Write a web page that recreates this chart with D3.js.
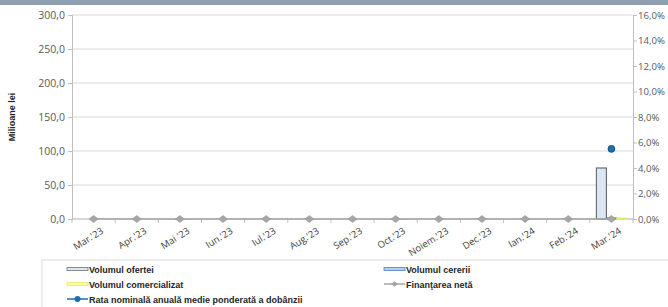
<!DOCTYPE html>
<html>
<head>
<meta charset="utf-8">
<script src="https://cdn.jsdelivr.net/npm/d3@7"></script>
<style>
  body { margin: 0; background: #fff; }
  svg { display: block; font-family: 'Lato', 'Liberation Sans', sans-serif; }
</style>
</head>
<body>
<div id="chart"></div>
<script>
const months = ["Mar.'23","Apr.'23","Mai '23","Iun.'23","Iul.'23","Aug.'23","Sep.'23","Oct.'23","Noiem.'23","Dec.'23","Ian.'24","Feb.'24","Mar.'24"];
const volOferta = [0,0,0,0,0,0,0,0,0,0,0,0,75];
const volCerere = [0,0,0,0,0,0,0,0,0,0,0,0,1.5];
const volComert = [0,0,0,0,0,0,0,0,0,0,0,0,1.2];
const finNeta = [0,0,0,0,0,0,0,0,0,0,0,0,0];
const rata = [null,null,null,null,null,null,null,null,null,null,null,null,5.5];
const leftTicks = [0,50,100,150,200,250,300];
const rightTicks = [0,2,4,6,8,10,12,14,16];

const W = 668, H = 307;
const margin = { top: 15, right: 35, bottom: 88, left: 72 };
const cw = W - margin.left - margin.right;
const ch = H - margin.top - margin.bottom;

const svg = d3.select('#chart').append('svg').attr('width', W).attr('height', H);

// band at the top
svg.append('rect').attr('x', 0).attr('y', 0).attr('width', W).attr('height', 5).attr('fill', '#8d9fb1');

const g = svg.append('g').attr('transform', 'translate(' + margin.left + ',' + margin.top + ')');

const x = d3.scaleBand().domain(months).range([0, cw]);
const y = d3.scaleLinear().domain([0, 300]).range([ch, 0]);
const y2 = d3.scaleLinear().domain([0, 16]).range([ch, 0]);
const series = ['oferta','cerere','comert'];
const xs = d3.scaleBand().domain(series).range([x.bandwidth() / 2 - 15, x.bandwidth() / 2 + 15]);

// grid
leftTicks.forEach(t => {
  g.append('line').attr('x1', 0).attr('x2', cw).attr('y1', y(t)).attr('y2', y(t))
    .attr('stroke', '#d9d9d9').attr('stroke-width', 1);
});

// axes
const axL = g.append('g').call(d3.axisLeft(y).tickValues(leftTicks).tickSize(4)
  .tickFormat(d => d.toFixed(1).replace('.', ',')));
axL.select('.domain').attr('stroke', '#bfbfbf');
axL.selectAll('.tick line').attr('stroke', '#bfbfbf');
axL.selectAll('text').style('font-size', '10.5px').style('fill', '#595959')
  .style('font-family', "'Open Sans', sans-serif").attr('x', -7);

const axR = g.append('g').attr('transform', 'translate(' + cw + ',0)')
  .call(d3.axisRight(y2).tickValues(rightTicks).tickSize(4)
  .tickFormat(d => d.toFixed(1).replace('.', ',') + '%'));
axR.select('.domain').attr('stroke', '#bfbfbf');
axR.selectAll('.tick line').attr('stroke', '#bfbfbf');
axR.selectAll('text').style('font-size', '9.6px').style('fill', '#595959')
  .style('font-family', "'Open Sans', sans-serif").attr('x', 5);

// x axis
g.append('line').attr('x1', 0).attr('x2', cw).attr('y1', ch).attr('y2', ch).attr('stroke', '#bfbfbf');
months.forEach((m, i) => {
  g.append('line').attr('x1', x(m)).attr('x2', x(m)).attr('y1', ch).attr('y2', ch + 4).attr('stroke', '#bfbfbf');
});
g.append('line').attr('x1', cw).attr('x2', cw).attr('y1', ch).attr('y2', ch + 4).attr('stroke', '#bfbfbf');
g.selectAll('.xl').data(months).enter().append('text')
  .attr('transform', d => 'translate(' + (x(d) + x.bandwidth() / 2 + 7) + ',' + (ch + 8) + ') rotate(-32)')
  .attr('text-anchor', 'end').attr('dy', '0.7em')
  .style('font-size', '9.5px').style('fill', '#404040')
  .style('font-family', "'Open Sans', sans-serif")
  .text(d => d);

// bars
const barStyle = {
  oferta: { data: volOferta, fill: '#dce7f4', stroke: '#6f6f6f' },
  cerere: { data: volCerere, fill: '#b9cde5', stroke: '#4f81bd' },
  comert: { data: volComert, fill: '#ffff99', stroke: '#e6e66b' }
};
series.forEach(s => {
  const st = barStyle[s];
  g.selectAll('.b-' + s).data(months).enter().append('rect')
    .attr('x', d => x(d) + xs(s))
    .attr('width', xs.bandwidth())
    .attr('y', (d, i) => y(st.data[i]))
    .attr('height', (d, i) => ch - y(st.data[i]))
    .attr('fill', st.fill).attr('stroke', st.stroke).attr('stroke-width', 1.2);
});

// net financing line
const cx = d => x(d) + x.bandwidth() / 2;
g.append('path').datum(finNeta)
  .attr('d', d3.line().x((d, i) => cx(months[i])).y(d => y(d)))
  .attr('fill', 'none').attr('stroke', '#a6a6a6').attr('stroke-width', 1.5);
g.selectAll('.dm').data(finNeta).enter().append('path')
  .attr('d', d3.symbol().type(d3.symbolSquare).size(34))
  .attr('transform', (d, i) => 'translate(' + cx(months[i]) + ',' + y(d) + ') scale(1.1,0.85) rotate(45)')
  .attr('fill', '#a6a6a6').attr('stroke', '#9a9a9a').attr('stroke-width', 0.6);

// rate
g.selectAll('.rt').data(rata).enter().filter(d => d !== null).append('circle')
  .attr('cx', d => cx(months[rata.indexOf(d)]))
  .attr('cy', d => y2(d)).attr('r', 3.4)
  .attr('fill', '#1f6fae').attr('stroke', '#15578c');

// y title
svg.append('text').attr('transform', 'translate(15,' + (margin.top + ch / 2) + ') rotate(-90)')
  .attr('text-anchor', 'middle').style('font-size', '9px').style('font-weight', 'bold')
  .style('font-family', "'Liberation Sans', sans-serif").style('fill', '#262626')
  .text('Milioane lei');

// legend
const lg = svg.append('g');
lg.append('rect').attr('x', 42).attr('y', 260).attr('width', 640).attr('height', 60)
  .attr('fill', '#fff').attr('stroke', '#d9d9d9');
const legendItems = [
  { label: 'Volumul ofertei', type: 'bar', key: 'oferta', col: 0, row: 0 },
  { label: 'Volumul cererii', type: 'bar', key: 'cerere', col: 1, row: 0 },
  { label: 'Volumul comercializat', type: 'bar', key: 'comert', col: 0, row: 1 },
  { label: 'Finanţarea netă', type: 'diamond', col: 1, row: 1 },
  { label: 'Rata nominală anuală medie ponderată a dobânzii', type: 'circle', col: 0, row: 2 }
];
legendItems.forEach(it => {
  const lx = it.col === 0 ? 67 : 384;
  const ly = 268 + it.row * 15;
  if (it.type === 'bar') {
    const st = barStyle[it.key];
    lg.append('rect').attr('x', lx).attr('y', ly - 0.5).attr('width', 21).attr('height', 3)
      .attr('fill', st.fill).attr('stroke', st.stroke).attr('stroke-width', 0.8);
  } else {
    const c = it.type === 'diamond' ? '#a6a6a6' : '#1f6fae';
    lg.append('line').attr('x1', lx).attr('x2', lx + 21).attr('y1', ly + 1).attr('y2', ly + 1)
      .attr('stroke', c).attr('stroke-width', 1.5);
    if (it.type === 'diamond') {
      lg.append('path').attr('d', d3.symbol().type(d3.symbolSquare).size(22))
        .attr('transform', 'translate(' + (lx + 10.5) + ',' + (ly + 1) + ') scale(1.1,0.85) rotate(45)').attr('fill', c);
    } else {
      lg.append('circle').attr('cx', lx + 10.5).attr('cy', ly + 1).attr('r', 3).attr('fill', c);
    }
  }
  lg.append('text').attr('x', lx + 22).attr('y', ly + 4.5)
    .style('font-size', '9px').style('font-weight', 'bold')
    .style('font-family', "'Liberation Sans', sans-serif").style('fill', '#262626')
    .text(it.label);
});
</script>
</body>
</html>
